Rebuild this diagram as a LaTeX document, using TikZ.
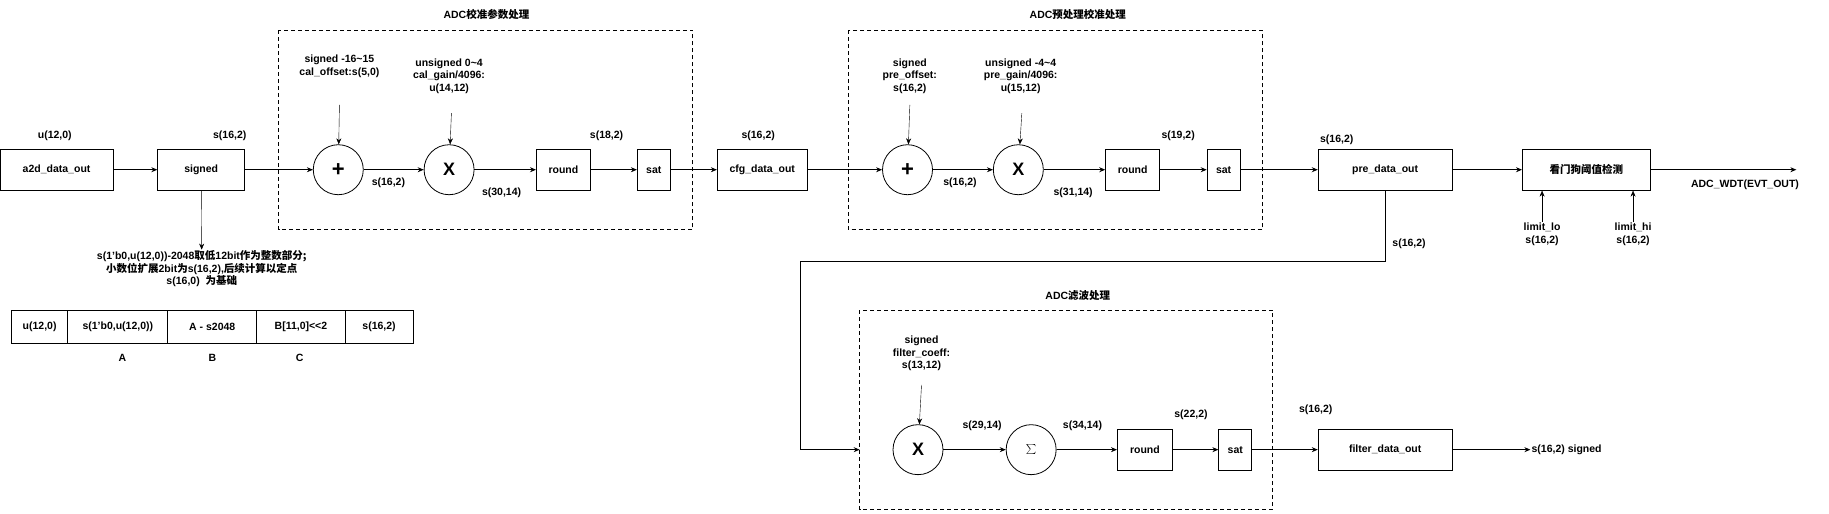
\documentclass[tikz,border=0pt]{standalone}
\usepackage{fontspec}
\setmainfont{Liberation Sans}
\newfontfamily\cjk{Noto Sans CJK SC}
\usetikzlibrary{arrows.meta}
\begin{document}
\begin{tikzpicture}[x=1.1665pt,y=-1.1665pt,
  font=\bfseries\fontsize{10.5}{12.5}\selectfont,
  box/.style={draw,thick,minimum height=41pt,inner sep=0pt},
  op/.style={draw,thick,circle,minimum size=50pt,inner sep=0pt},
  lab/.style={align=center,inner sep=1pt},
  grp/.style={draw,thick,dashed,dash pattern=on 4pt off 3pt},
  arr/.style={-{Stealth[length=6pt,width=5pt]},thick},
  thin arr/.style={-{Stealth[length=6pt,width=5pt]}}]
\useasboundingbox (0,0) rectangle (1568,440);
% groups
\draw[grp] (239,26) rectangle (594,197);
\draw[grp] (727,26) rectangle (1082,197);
\draw[grp] (737,266) rectangle (1091,437);
\node[lab] (t1) at (417,12) {ADC{\cjk 校准参数处理}};
\node[lab] (t2) at (924,12) {ADC{\cjk 预处理校准处理}};
\node[lab] (t3) at (924,253) {ADC{\cjk 滤波处理}};
% row 1
\node[box,minimum width=113pt] (a2d) at (48.5,145.5) {a2d\_data\_out};
\node[box,minimum width=87pt] (sg) at (172.5,145.5) {signed};
\node[op] (p1) at (290,145.5) {\fontsize{22}{22}\selectfont +};
\node[op] (m1) at (385,145.5) {\fontsize{18}{18}\selectfont X};
\node[box,minimum width=54pt] (r1) at (483,145.5) {round};
\node[box,minimum width=33pt] (s1) at (560.5,145.5) {sat};
\node[box,minimum width=90pt] (cfg) at (653.5,145.5) {cfg\_data\_out};
\node[op] (p2) at (778,145.5) {\fontsize{22}{22}\selectfont +};
\node[op] (m2) at (873,145.5) {\fontsize{18}{18}\selectfont X};
\node[box,minimum width=54pt] (r2) at (971,145.5) {round};
\node[box,minimum width=33pt] (s2) at (1049,145.5) {sat};
\node[box,minimum width=134pt] (pre) at (1187.5,145.5) {pre\_data\_out};
\node[box,minimum width=128pt] (wdt) at (1360,145.5) {\cjk 看门狗阈值检测};
\coordinate (wout) at (1540,145.5);
\draw[arr] (a2d) -- (sg);
\draw[arr] (sg) -- (p1);
\draw[arr] (p1) -- (m1);
\draw[arr] (m1) -- (r1);
\draw[arr] (r1) -- (s1);
\draw[arr] (s1) -- (cfg);
\draw[arr] (cfg) -- (p2);
\draw[arr] (p2) -- (m2);
\draw[arr] (m2) -- (r2);
\draw[arr] (r2) -- (s2);
\draw[arr] (s2) -- (pre);
\draw[arr] (pre) -- (wdt);
\draw[arr] (wdt) -- (wout);
% labels row 1
\node[lab] (l1) at (47,116) {u(12,0)};
\node[lab] (l2) at (197,116) {s(16,2)};
\node[lab] (l3) at (333,157) {s(16,2)};
\node[lab] (l4) at (430,165) {s(30,14)};
\node[lab] (l5) at (520,116) {s(18,2)};
\node[lab] (l6) at (650,116) {s(16,2)};
\node[lab] (l7) at (823,157) {s(16,2)};
\node[lab] (l8) at (920,165) {s(31,14)};
\node[lab] (l9) at (1010,116) {s(19,2)};
\node[lab] (l10) at (1146,120) {s(16,2)};
\node[lab] (l11) at (1496,158) {ADC\_WDT(EVT\_OUT)};
\node[lab] (co1) at (291,57) {signed -16\textasciitilde15\\cal\_offset:s(5,0)};
\node[lab] (cg1) at (385,65) {unsigned 0\textasciitilde4\\cal\_gain/4096:\\u(14,12)};
\node[lab] (co2) at (780,65) {signed\\pre\_offset:\\s(16,2)};
\node[lab] (cg2) at (875,65) {unsigned -4\textasciitilde4\\pre\_gain/4096:\\u(15,12)};
\draw[thin arr] (291,90) -- (p1);
\draw[thin arr] (387,97) -- (m1);
\draw[thin arr] (780,90) -- (p2);
\draw[thin arr] (876,97) -- (m2);
\node[lab] (llo) at (1322,201) {limit\_lo\\s(16,2)};
\node[lab] (lhi) at (1400,201) {limit\_hi\\s(16,2)};
\draw[thin arr] (llo.north) -- (llo.north |- wdt.south);
\draw[thin arr] (lhi.north) -- (lhi.north |- wdt.south);
% signed note
\node[lab,anchor=north] (note) at (173,214) {s(1'b0,u(12,0))-2048{\cjk 取低}12bit{\cjk 作为整数部分;}\\{\cjk 小数位扩展}2bit{\cjk 为}s(16,2),{\cjk 后续计算以定点}\\s(16,0)~~{\cjk 为基础}};
\draw[thin arr] (sg) -- (note);
% table
\node[box,minimum width=56pt,minimum height=33pt] (c1) at (34,280) {u(12,0)};
\node[box,minimum width=100pt,minimum height=33pt] (c2) at (101,280) {s(1'b0,u(12,0))};
\node[box,minimum width=89pt,minimum height=33pt] (c3) at (182,280) {A - s2048};
\node[box,minimum width=89pt,minimum height=33pt] (c4) at (258,280) {B[11,0]<{}<2};
\node[box,minimum width=68pt,minimum height=33pt] (c5) at (325,280) {s(16,2)};
\node[lab] (la) at (105,307) {A};
\node[lab] (lb) at (182,307) {B};
\node[lab] (lc) at (257,307) {C};
% filter row
\node[op] (m3) at (787,385.5) {\fontsize{18}{18}\selectfont X};
\node[op] (sum) at (884,385.5) {\fontsize{18}{18}\selectfont $\sum$};
\node[box,minimum width=55pt] (r3) at (981.5,385.5) {round};
\node[box,minimum width=33pt] (s3) at (1059,385.5) {sat};
\node[box,minimum width=134pt] (fil) at (1187.5,385.5) {filter\_data\_out};
\node[lab,anchor=west] (fout) at (1312,385.5) {s(16,2) signed};
\coordinate (ent) at (737,385.5);
\draw[thick] (pre.south -| 1188,0) ++(0,0) coordinate (pd);
\draw[arr] (1188,163) -- (1188,224) -- (686,224) -- (686,385.5) -- (ent);
\draw[arr] (m3) -- (sum);
\draw[arr] (sum) -- (r3);
\draw[arr] (r3) -- (s3);
\draw[arr] (s3) -- (fil);
\draw[arr] (fil) -- (fout);
\node[lab] (fc) at (790,303) {signed\\filter\_coeff:\\s(13,12)};
\draw[thin arr] (790,330) -- (m3);
\node[lab] (l12) at (1208,209) {s(16,2)};
\node[lab] (l13) at (842,365) {s(29,14)};
\node[lab] (l14) at (928,365) {s(34,14)};
\node[lab] (l15) at (1021,356) {s(22,2)};
\node[lab] (l16) at (1128,351) {s(16,2)};
\end{tikzpicture}
\end{document}
